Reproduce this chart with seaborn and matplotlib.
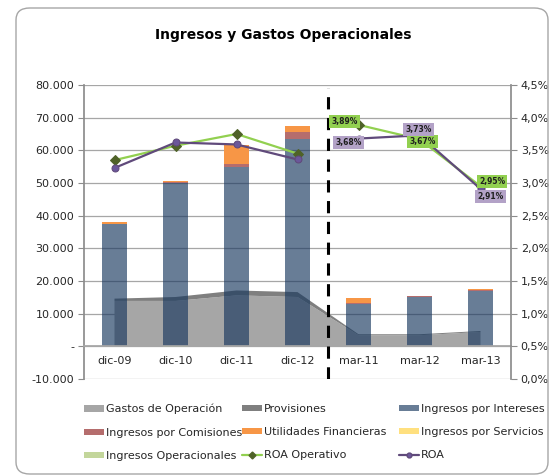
import numpy as np
import pandas as pd
import seaborn as sns
import matplotlib
matplotlib.use("Agg")
import matplotlib.pyplot as plt
from matplotlib.patches import Patch, FancyBboxPatch
from matplotlib.lines import Line2D
from matplotlib.ticker import FuncFormatter

# datos
periodos = ['dic-09', 'dic-10', 'dic-11', 'dic-12', 'mar-11', 'mar-12', 'mar-13']
gastos = [13900, 13900, 15600, 15100, 3400, 3400, 4400]
provisiones = [700, 1200, 1500, 1500, 300, 300, 300]
intereses = [37300, 49900, 54900, 63500, 13000, 15000, 16900]
comisiones = [300, 300, 1000, 2100, 150, 300, 250]
utilidades = [400, 500, 5750, 2000, 1500, 150, 250]
servicios = [0, 0, 0, 0, 0, 0, 0]
operacionales = [0, -250, 0, 0, 0, 0, 0]
roa_op = [3.35, 3.57, 3.75, 3.45, 3.89, 3.67, 2.95]
roa = [3.23, 3.62, 3.59, 3.36, 3.68, 3.73, 2.91]
segmento = ['dic', 'dic', 'dic', 'dic', 'mar', 'mar', 'mar']

c_gastos = '#a6a6a6'
c_prov = '#7f7f7f'
c_int = '#17375e'
c_com = '#b56d6d'
c_util = '#f79646'
c_serv = '#ffe07f'
c_oper = '#c3d69b'
c_roaop = '#92d050'
c_roaop_m = '#4f6228'
c_roa = '#604a7b'
txt = '#262626'

sns.set_theme(style="white")
plt.rcParams['font.family'] = ['DejaVu Sans']
plt.rcParams['patch.force_edgecolor'] = False

fig = plt.figure(figsize=(5.5, 4.76), dpi=100)
ax = fig.add_axes([84/550, 1-379/476, (511-84)/550, (379-85)/476])

pos = np.arange(len(periodos))
bottom = np.array(intereses, dtype=float)

ax.stackplot(pos, gastos, provisiones, colors=[c_gastos, c_prov], zorder=1, linewidth=0)
sns.barplot(x=periodos, y=intereses, color=c_int, saturation=1, alpha=0.65, width=0.4,
            errorbar=None, ax=ax, zorder=2, linewidth=0)
ax.bar(pos, comisiones, bottom=bottom, width=0.4, color=c_com, zorder=2, linewidth=0)
bottom = bottom + np.array(comisiones)
ax.bar(pos, utilidades, bottom=bottom, width=0.4, color=c_util, zorder=2, linewidth=0)
bottom = bottom + np.array(utilidades)
ax.bar(pos, servicios, bottom=bottom, width=0.4, color=c_serv, zorder=2, linewidth=0)
ax.bar(pos, operacionales, width=0.4, color=c_oper, zorder=2, linewidth=0)

ax.set_xlim(-0.5, 6.5)
ax.set_ylim(-10000, 80000)
ax.set_yticks(np.arange(-10000, 80001, 10000))
def fmt_miles(v, p):
    if v == 0:
        return '-'
    return '{:,.0f}'.format(v).replace(',', '.')
ax.yaxis.set_major_formatter(FuncFormatter(fmt_miles))
ax.yaxis.grid(True, color='#a6a6a6', lw=0.9)
ax.set_axisbelow(True)
ax.set_xlabel('')
ax.set_ylabel('')
ax.spines['bottom'].set_position(('data', 0))
ax.spines['bottom'].set_color('#a6a6a6')
ax.spines['left'].set_color('#8c8c8c')
ax.spines['top'].set_visible(False)
ax.spines['right'].set_visible(False)
ax.tick_params(axis='x', length=0, pad=7, labelsize=8, labelcolor=txt)
ax.tick_params(axis='y', length=4, width=0.8, color='#8c8c8c', left=True, pad=3,
               labelsize=8, labelcolor=txt)

ax2 = ax.twinx()
df = pd.DataFrame({'pos': pos, 'roa_op': roa_op, 'roa': roa, 'seg': segmento})
sns.lineplot(data=df, x='pos', y='roa_op', units='seg', estimator=None, color=c_roaop,
             lw=1.6, marker='D', markersize=5, markerfacecolor=c_roaop_m,
             markeredgecolor=c_roaop_m, ax=ax2, legend=False, zorder=4)
sns.lineplot(data=df, x='pos', y='roa', units='seg', estimator=None, color=c_roa,
             lw=1.6, marker='o', markersize=5, markerfacecolor='#6b579a',
             markeredgecolor=c_roa, ax=ax2, legend=False, zorder=4)
ax2.set_ylim(0, 4.5)
ax2.set_yticks(np.arange(0, 4.51, 0.5))
ax2.yaxis.set_major_formatter(FuncFormatter(lambda v, p: '{:.1f}%'.format(v).replace('.', ',')))
ax2.set_xlabel('')
ax2.set_ylabel('')
for s in ['top', 'bottom', 'left']:
    ax2.spines[s].set_visible(False)
ax2.spines['right'].set_color('#8c8c8c')
ax2.tick_params(axis='y', length=4, width=0.8, color='#8c8c8c', right=True, pad=3,
                labelsize=8, labelcolor=txt)
ax2.set_xlim(-0.5, 6.5)

ax2.axvline(3.5, ymin=0.0, ymax=0.99, color='black', lw=2.2, linestyle=(0, (4, 2.8)), zorder=3)

# etiquetas de marzo
offs_op = [(-14, 3), (3, -2.5), (11.5, 4.5)]
offs_roa = [(-10, -4), (-1, 6), (10, -7.5)]
for k, i in enumerate(range(4, 7)):
    ax2.annotate('{:.2f}%'.format(roa_op[i]).replace('.', ','), (pos[i], roa_op[i]),
                 xytext=offs_op[k], textcoords='offset pixels', ha='center', va='center',
                 fontsize=5.5, fontweight='bold', color='#1f1f1f', zorder=6,
                 bbox=dict(boxstyle='square,pad=0.25', fc=c_roaop, ec='none'))
    ax2.annotate('{:.2f}%'.format(roa[i]).replace('.', ','), (pos[i], roa[i]),
                 xytext=offs_roa[k], textcoords='offset pixels', ha='center', va='center',
                 fontsize=5.5, fontweight='bold', color='#1f1f1f', zorder=6,
                 bbox=dict(boxstyle='square,pad=0.25', fc='#b3a2c7', ec='none'))

fig.text(0.515, 1-35/476, 'Ingresos y Gastos Operacionales', ha='center', va='center',
         fontsize=10, fontweight='bold', color='black')

# leyenda en tres columnas
col1 = [Patch(color=c_gastos, lw=0), Patch(color=c_com, lw=0), Patch(color=c_oper, lw=0)]
lab1 = ['Gastos de Operación', 'Ingresos por Comisiones', 'Ingresos Operacionales']
col2 = [Patch(color=c_prov, lw=0), Patch(color=c_util, lw=0),
        Line2D([], [], color=c_roaop, lw=1.6, marker='D', markersize=3.5,
               markerfacecolor=c_roaop_m, markeredgecolor=c_roaop_m)]
lab2 = ['Provisiones', 'Utilidades Financieras', 'ROA Operativo']
col3 = [Patch(color='#687d96', lw=0), Patch(color=c_serv, lw=0),
        Line2D([], [], color=c_roa, lw=1.6, marker='o', markersize=3.5,
               markerfacecolor='#6b579a', markeredgecolor=c_roa)]
lab3 = ['Ingresos por Intereses', 'Ingresos por Servicios', 'ROA']
for hs, ls, x0 in [(col1, lab1, 84), (col2, lab2, 242), (col3, lab3, 399)]:
    fig.legend(hs, ls, loc='upper left', bbox_to_anchor=(x0/550, 1-404/476), frameon=False,
               fontsize=8, borderpad=0, borderaxespad=0, handlelength=1.8, handleheight=0.5,
               handletextpad=0.15, labelspacing=1.18, labelcolor=txt)

fig.patches.append(FancyBboxPatch((16/550, 2/476), (548-16)/550, (474-8)/476,
                                  boxstyle='round,pad=0,rounding_size=0.025',
                                  transform=fig.transFigure, fc='none', ec='#a6a6a6', lw=1))

fig.savefig('out.png', dpi=100)
